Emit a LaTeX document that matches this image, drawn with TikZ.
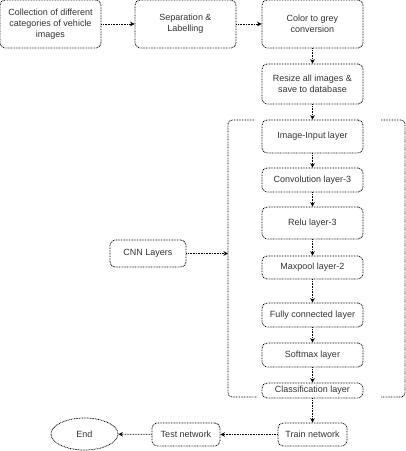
\documentclass[tikz,border=0pt]{standalone}
\usepackage{fontspec}
\setmainfont{Liberation Sans}
\usetikzlibrary{arrows.meta,shapes.geometric}
\definecolor{txt}{HTML}{333333}
\begin{document}
\begin{tikzpicture}[x=1pt,y=-1pt,
  box/.style={draw, dash pattern=on 0.8pt off 0.8pt, line width=0.8pt, rounded corners=5pt, align=center,
    inner sep=0pt, text=txt, font=\fontsize{9}{11}\selectfont},
  conn/.style={dash pattern=on 0.8pt off 0.8pt, line width=0.8pt, -{Stealth[length=4.5pt,width=4.5pt]}},
  brk/.style={dash pattern=on 0.8pt off 0.8pt, line width=0.8pt, rounded corners=4pt}]
\useasboundingbox (0,0) rectangle (406,451);
\node[box, minimum width=101pt, minimum height=48pt] (b1) at (50.5,24) {Collection of different\\categories of vehicle\\images};
\node[box, minimum width=101pt, minimum height=48pt] (b2) at (185.5,24) {Separation \&\\Labelling};
\node[box, minimum width=101pt, minimum height=48pt] (b3) at (312.5,24) {Color to grey\\conversion};
\node[box, minimum width=101pt, minimum height=40pt] (b4) at (312.5,84) {Resize all images \&\\save to database};
\node[box, minimum width=101pt, minimum height=33pt] (l1) at (312.5,136.5) {Image-Input layer};
\node[box, minimum width=101pt, minimum height=24pt] (l2) at (312.5,180) {Convolution layer-3};
\node[box, minimum width=101pt, minimum height=32pt] (l3) at (312.5,223) {Relu layer-3};
\node[box, minimum width=101pt, minimum height=23pt] (l4) at (312.5,267.5) {Maxpool layer-2};
\node[box, minimum width=101pt, minimum height=24pt] (l5) at (312.5,315) {Fully connected layer};
\node[box, minimum width=101pt, minimum height=24pt] (l6) at (312.5,355) {Softmax layer};
\node[box, minimum width=101pt, minimum height=15pt] (l7) at (312.5,390.5) {Classification layer};
\node[box, minimum width=69pt, minimum height=23pt] (tr) at (312.5,434.5) {Train network};
\node[box, minimum width=68pt, minimum height=23pt] (te) at (186,434.5) {Test network};
\node[box, ellipse, minimum width=67pt, minimum height=32pt] (en) at (84.5,434) {End};
\node[box, minimum width=76pt, minimum height=27pt] (cnn) at (148,253.5) {CNN Layers};
% bracket
\draw[brk] (254,120) -- (228,120) -- (228,397) -- (257,397);
\draw[brk] (381,120) -- (405,120) -- (405,397) -- (381,397);
\coordinate (bl) at (228,253.5);
% connectors
\draw[conn] (b1) -- (b2);
\draw[conn] (b2) -- (b3);
\draw[conn] (b3) -- (b4);
\draw[conn] (b4) -- (l1);
\draw[conn] (l1) -- (l2);
\draw[conn] (l2) -- (l3);
\draw[conn] (l3) -- (l4);
\draw[conn] (l4) -- (l5);
\draw[conn] (l5) -- (l6);
\draw[conn] (l6) -- (l7);
\draw[conn] (l7) -- (tr);
\draw[conn] (tr) -- (te);
\draw[conn] (te) -- (en);
\draw[conn] (cnn) -- (bl);
\end{tikzpicture}
\end{document}
